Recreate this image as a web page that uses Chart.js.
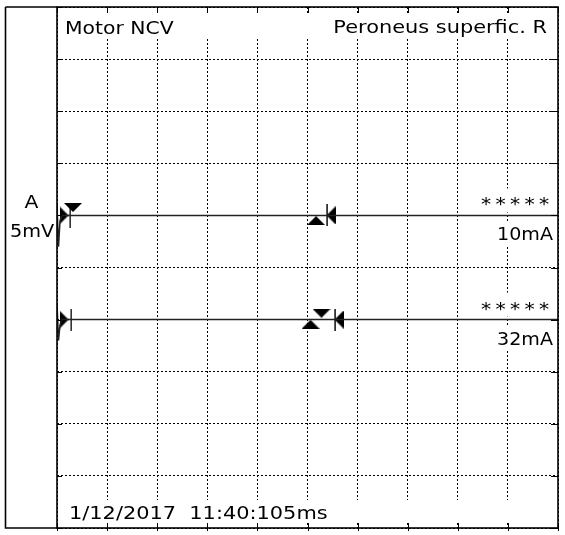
<!DOCTYPE html>
<html>
<head>
<meta charset="utf-8">
<script src="https://cdn.jsdelivr.net/npm/chart.js@4"></script>
<style>
  body { margin: 0; background: #fff; }
  #wrap { width: 565px; height: 535px; position: relative; }
</style>
</head>
<body>
<div id="wrap"><canvas id="ncvChart"></canvas></div>
<script>
// trace data (x in divisions, y in divisions)
const traceX = [0, 0.03, 0.06, 0.1, 10];
const traceA = [6.2, 5.4, 5.9, 6.0, 6.0];
const traceB = [4.3, 3.6, 3.9, 4.0, 4.0];

// latency markers, trace A then trace B
const stimX = [0.14, 0.14];
const stimY = [6.0, 4.0];
const barX = [0.26, 5.38, 0.28, 5.54];
const barY = [5.97, 6.0, 4.0, 4.0];
const downX = [0.32, 5.28];
const downY = [6.15, 4.12];
const upX = [5.17, 5.06];
const upY = [5.9, 3.91];
const endX = [5.47, 5.63];
const endY = [6.0, 4.0];

// texts
const titleLeft = "Motor NCV";
const titleRight = "Peroneus superfic. R";
const channel = ["A", "5mV"];
const results = ["*****", "*****"];
const currents = ["10mA", "32mA"];
const stamp = "1/12/2017  11:40:105ms";

const xDivs = [0, 10];
const yDivs = [0, 10];

function pts(xs, ys) {
    return xs.map((x, i) => ({ x: x, y: ys[i] }));
}

// flat triangle with apex up, rotated per marker
function makeTri(w, h) {
    const c = document.createElement("canvas");
    c.width = w; c.height = h;
    const g = c.getContext("2d");
    g.fillStyle = "#000";
    g.beginPath();
    g.moveTo(w / 2, 0);
    g.lineTo(w, h);
    g.lineTo(0, h);
    g.closePath();
    g.fill();
    return c;
}
function makeBar(h) {
    const c = document.createElement("canvas");
    c.width = 2; c.height = h;
    const g = c.getContext("2d");
    g.fillStyle = "#000";
    g.fillRect(0.5, 0, 1.3, h);
    return c;
}
const tri = makeTri(18, 9);
const bar = makeBar(22);

function txt(ctx, s, x, y, align, sx) {
    ctx.save();
    ctx.font = "18px 'DejaVu Sans'";
    ctx.fillStyle = "#000";
    ctx.textBaseline = "alphabetic";
    sx = sx || 1.13;
    const w = ctx.measureText(s).width * sx;
    let x0 = x;
    if (align === "right") x0 = x - w;
    if (align === "center") x0 = x - w / 2;
    ctx.translate(x0, y);
    ctx.scale(sx, 1);
    ctx.fillText(s, 0, 0);
    ctx.restore();
}

const panel = {
    id: "panel",
    beforeDatasetsDraw(chart) {
        const ctx = chart.ctx;
        const a = chart.chartArea;
        const ys = chart.scales.y;
        ctx.save();
        ctx.fillStyle = "#fff";
        // header and footer bands
        ctx.fillRect(a.left + 1, a.top + 6, a.right - a.left - 2, 25);
        ctx.fillRect(a.left + 1, a.bottom - 28, a.right - a.left - 2, 23);
        // result boxes at right
        [traceA, traceB].forEach(t => {
            const py = ys.getPixelForValue(t[t.length - 1]);
            ctx.fillRect(a.right - 80, py - 27, 78, 24);
            ctx.fillRect(a.right - 80, py + 6, 78, 25);
        });
        ctx.restore();
    },
    afterDraw(chart) {
        const ctx = chart.ctx;
        const a = chart.chartArea;
        const xs = chart.scales.x;
        const ys = chart.scales.y;
        ctx.save();
        ctx.strokeStyle = "#000";
        // inward ticks
        ctx.lineWidth = 1;
        ctx.beginPath();
        xs.ticks.forEach(t => {
            const px = Math.round(xs.getPixelForValue(t.value)) + 0.5;
            ctx.moveTo(px, a.top); ctx.lineTo(px, a.top + 6);
            ctx.moveTo(px, a.bottom - 5); ctx.lineTo(px, a.bottom + 3);
        });
        ys.ticks.forEach(t => {
            const py = Math.round(ys.getPixelForValue(t.value)) + 0.5;
            ctx.moveTo(a.left, py); ctx.lineTo(a.left + 5, py);
            ctx.moveTo(a.right - 7, py); ctx.lineTo(a.right, py);
        });
        ctx.stroke();
        // frame
        ctx.lineWidth = 1.6;
        ctx.strokeRect(a.left, a.top, a.right - a.left, a.bottom - a.top);
        // left channel panel
        ctx.beginPath();
        ctx.moveTo(5.5, a.top); ctx.lineTo(a.left, a.top);
        ctx.moveTo(5.5, a.top); ctx.lineTo(5.5, a.bottom);
        ctx.lineTo(a.left, a.bottom);
        ctx.stroke();
        ctx.restore();

        txt(ctx, titleLeft, a.left + 8, a.top + 27, "left");
        txt(ctx, titleRight, a.right - 11, a.top + 26, "right", 1.16);
        txt(ctx, channel[0], 31.5, 208, "center");
        txt(ctx, channel[1], 32, 237, "center", 1.07);
        [traceA, traceB].forEach((t, i) => {
            const py = ys.getPixelForValue(t[t.length - 1]);
            // asterisks are evenly spaced
            const s = results[i];
            for (let k = 0; k < s.length; k++) {
                txt(ctx, s[k], a.right - 72 + k * 14.5, py - 5, "center");
            }
            txt(ctx, currents[i], a.right - 5, py + 25, "right", 1.06);
        });
        txt(ctx, stamp, a.left + 12, a.bottom - 9, "left", 1.16);
    }
};

const ctx = document.getElementById("ncvChart").getContext("2d");

const lineStyle = {
    showLine: true,
    borderColor: "#222",
    borderWidth: 1.5,
    pointRadius: 0,
    tension: 0
};
const markStyle = (rot, img) => ({
    showLine: false,
    pointStyle: img,
    pointRotation: rot,
    pointRadius: 6,
    pointHoverRadius: 6
});

new Chart(ctx, {
    type: "scatter",
    data: {
        datasets: [
            Object.assign({ label: "A1", data: pts(traceX, traceA) }, lineStyle),
            Object.assign({ label: "A2", data: pts(traceX, traceB) }, lineStyle),
            Object.assign({ label: "stim", data: pts(stimX, stimY) }, markStyle(90, tri)),
            Object.assign({ label: "bar", data: pts(barX, barY) }, markStyle(0, bar)),
            Object.assign({ label: "down", data: pts(downX, downY) }, markStyle(180, tri)),
            Object.assign({ label: "up", data: pts(upX, upY) }, markStyle(0, tri)),
            Object.assign({ label: "end", data: pts(endX, endY) }, markStyle(270, tri))
        ]
    },
    options: {
        responsive: true,
        maintainAspectRatio: false,
        animation: false,
        layout: { padding: { left: 57, right: 3, top: 2, bottom: 5 } },
        plugins: {
            legend: { display: false },
            tooltip: { enabled: false }
        },
        scales: {
            x: {
                type: "linear",
                min: xDivs[0], max: xDivs[1],
                ticks: { display: false, stepSize: 1 },
                grid: { color: "#000", lineWidth: 1, drawTicks: false },
                border: { display: false, dash: [2, 2] }
            },
            y: {
                type: "linear",
                min: yDivs[0], max: yDivs[1],
                ticks: { display: false, stepSize: 1 },
                grid: { color: "#000", lineWidth: 1, drawTicks: false },
                border: { display: false, dash: [2, 2] }
            }
        }
    },
    plugins: [panel]
});
</script>
</body>
</html>
